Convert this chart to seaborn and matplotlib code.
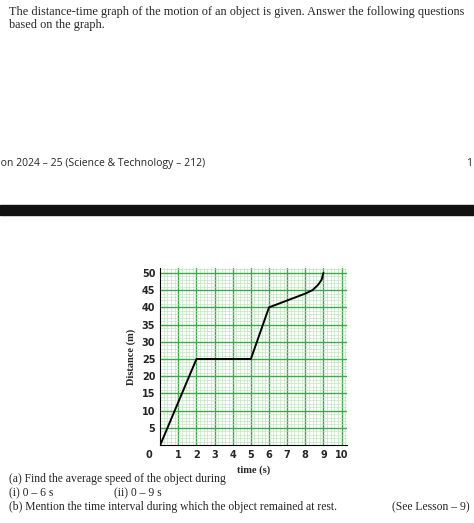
import matplotlib
matplotlib.use("Agg")
import matplotlib.pyplot as plt
import seaborn as sns
import numpy as np
import pandas as pd
from matplotlib.ticker import MultipleLocator

time_s = [0, 2, 5, 6, 7, 7.5, 8, 8.4, 8.7, 8.9, 9]
distance_m = [0, 25, 25, 40, 42, 43, 44, 45, 46.5, 48, 50]
xticks = [1, 2, 3, 4, 5, 6, 7, 8, 9, 10]
yticks = [5, 10, 15, 20, 25, 30, 35, 40, 45, 50]

sns.set_style("white")
plt.rcParams['font.family'] = ['DejaVu Sans']
fig = plt.figure(figsize=(4.74, 5.23), dpi=100)
serif = ['Liberation Serif', 'DejaVu Serif']

fig.text(0.02, 0.988, "The distance-time graph of the motion of an object is given. Answer the following questions\nbased on the graph.",
         family=serif, fontsize=8.8, va='top', ha='left', linespacing=1.05)
fig.text(-0.005, 0.688, "ion 2024 – 25 (Science & Technology – 212)", family=['Open Sans'], fontsize=7.5, va='center')
fig.text(0.995, 0.688, "1", family=['Open Sans'], fontsize=7.5, va='center', ha='right')
fig.patches.append(plt.Rectangle((0, 0.588), 1, 0.02, transform=fig.transFigure, color='#111111'))

ax = fig.add_axes([0.338, 0.149, 0.394, 0.339])
df = pd.DataFrame({"t": time_s, "d": distance_m})
sns.lineplot(data=df, x="t", y="d", ax=ax, color='black', lw=1.4)
ax.set_xlim(0, 10.3)
ax.set_ylim(0, 51.5)
ax.set_xticks(xticks)
ax.set_yticks(yticks)
ax.set_xticks(np.arange(0, 10.3, 0.2), minor=True)
ax.yaxis.set_minor_locator(MultipleLocator(1))
ax.grid(which='major', color='#3fa84a', lw=1.0)
ax.grid(which='minor', color='#b3e2b3', lw=0.4)
ax.set_axisbelow(True)
for s in ['top', 'right']:
    ax.spines[s].set_visible(False)
for s in ['left', 'bottom']:
    ax.spines[s].set_color('black')
ax.tick_params(length=0, labelsize=7)
for lab in ax.get_xticklabels() + ax.get_yticklabels():
    lab.set_fontweight('bold')
ax.set_xlabel("time (s)", family=serif, fontweight='bold', fontsize=7.5)
ax.set_ylabel("Distance (m)", family=serif, fontweight='bold', fontsize=7.5)
ax.text(-0.45, -1.5, "0", fontsize=7, fontweight='bold', ha='right', va='top')

fig.text(0.02, 0.078, "(a) Find the average speed of the object during", family=serif, fontsize=8.4)
fig.text(0.02, 0.052, "(i) 0 – 6 s", family=serif, fontsize=8.4)
fig.text(0.24, 0.052, "(ii) 0 – 9 s", family=serif, fontsize=8.4)
fig.text(0.02, 0.024, "(b) Mention the time interval during which the object remained at rest.", family=serif, fontsize=8.4)
fig.text(0.99, 0.024, "(See Lesson – 9)", family=serif, fontsize=8.4, ha='right')
fig.savefig("out.png", dpi=100)
